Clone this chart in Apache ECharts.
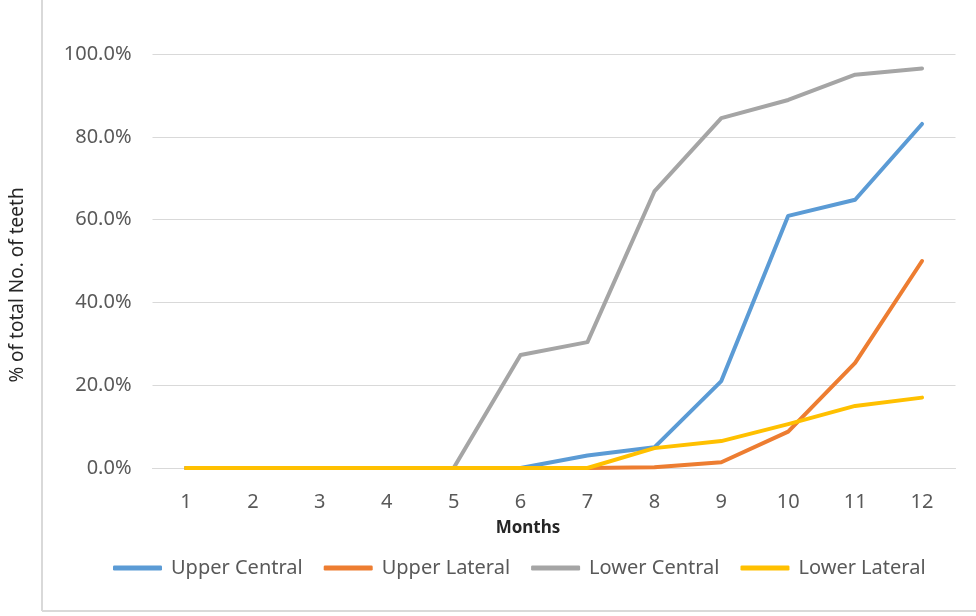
<!DOCTYPE html>
<html>
<head>
<meta charset="utf-8">
<script src="https://cdn.jsdelivr.net/npm/echarts@6/dist/echarts.min.js"></script>
<style>html,body{margin:0;padding:0;background:#fff}#c{width:976px;height:616px}</style>
</head>
<body>
<div id="c"></div>
<script>
var months = ['1','2','3','4','5','6','7','8','9','10','11','12'];
var upperCentral = [0, 0, 0, 0, 0, 0, 3.0, 5.0, 21.0, 60.9, 64.8, 83.1];
var upperLateral = [0, 0, 0, 0, 0, 0, 0, 0.2, 1.4, 8.8, 25.4, 50.0];
var lowerCentral = [0, 0, 0, 0, 0, 27.3, 30.4, 66.8, 84.5, 88.9, 95.0, 96.5];
var lowerLateral = [0, 0, 0, 0, 0, 0, 0, 4.8, 6.5, 10.6, 15.0, 17.0];
var seriesNames = ['Upper Central', 'Upper Lateral', 'Lower Central', 'Lower Lateral'];
var colors = ['#5B9BD5', '#ED7D31', '#A5A5A5', '#FFC000'];
var yTicks = {min: 0, max: 100, interval: 20};

var font = 'Noto Sans';
var chart = echarts.init(document.getElementById('c'));
function mk(name, data, color) {
  return {
    name: name, type: 'line', data: data, symbol: 'none', smooth: false,
    lineStyle: {color: color, width: 4, cap: 'round', join: 'round'},
    itemStyle: {color: color}
  };
}
chart.setOption({
  animation: false,
  color: colors,
  grid: {left: 152.5, right: 20.5, top: 54, bottom: 148},
  xAxis: {
    type: 'category', data: months, boundaryGap: true,
    axisLine: {show: true, lineStyle: {color: '#d9d9d9', width: 1}},
    axisTick: {show: false},
    axisLabel: {color: '#595959', fontFamily: font, fontSize: 20, margin: 24}
  },
  yAxis: {
    type: 'value', min: yTicks.min, max: yTicks.max, interval: yTicks.interval,
    axisLine: {show: false}, axisTick: {show: false},
    splitLine: {lineStyle: {color: '#d9d9d9', width: 1}},
    axisLabel: {color: '#595959', fontFamily: font, fontSize: 20, margin: 21,
      formatter: function (v) { return v.toFixed(1) + '%'; }}
  },
  legend: {
    data: seriesNames, left: 108, top: 553, icon: 'roundRect',
    itemWidth: 49, itemHeight: 5, itemGap: 21,
    textStyle: {color: '#595959', fontFamily: font, fontSize: 20, padding: [0, 0, 0, 4]}
  },
  graphic: [
    {type: 'line', shape: {x1: 42, y1: 0, x2: 42, y2: 611}, style: {stroke: '#d9d9d9', lineWidth: 2}},
    {type: 'line', shape: {x1: 42, y1: 611, x2: 976, y2: 611}, style: {stroke: '#d9d9d9', lineWidth: 2}},
    {type: 'text', x: 528, y: 528, style: {text: 'Months', fill: '#262626', font: 'bold 17px "Noto Sans"', textAlign: 'center', textVerticalAlign: 'middle'}},
    {type: 'text', x: 18, y: 285, rotation: Math.PI / 2, style: {text: '% of total No. of teeth', fill: '#262626', font: '19px "Noto Sans"', textAlign: 'center', textVerticalAlign: 'middle'}}
  ],
  series: [
    mk(seriesNames[0], upperCentral, colors[0]),
    mk(seriesNames[1], upperLateral, colors[1]),
    mk(seriesNames[2], lowerCentral, colors[2]),
    mk(seriesNames[3], lowerLateral, colors[3])
  ]
});
</script>
</body>
</html>
